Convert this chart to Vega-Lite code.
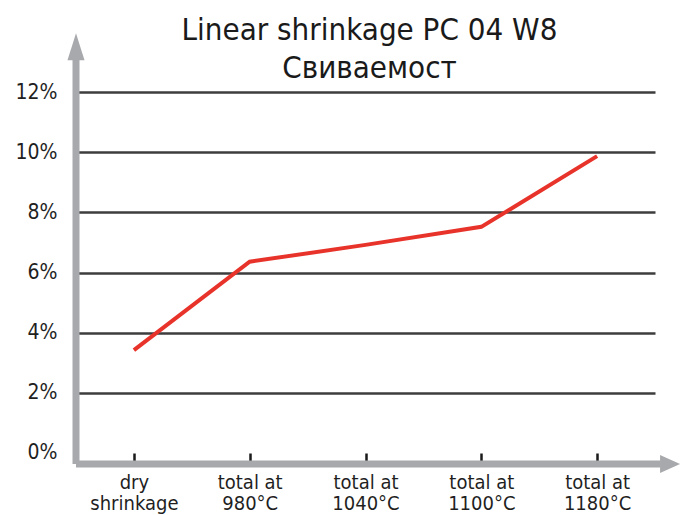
{
  "$schema": "https://vega.github.io/schema/vega-lite/v6.json",
  "width": 579,
  "height": 417,
  "autosize": {"type": "none"},
  "padding": {"left": 76, "top": 47, "right": 30, "bottom": 51},
  "background": "white",
  "config": {"view": {"stroke": null}, "font": "DejaVu Sans Condensed"},
  "title": {
    "text": ["Linear shrinkage PC 04 W8", "Свиваемост"],
    "fontSize": 31,
    "fontWeight": "normal",
    "color": "#1a1a1a",
    "lineHeight": 38,
    "anchor": "middle",
    "dx": 4,
    "offset": -52
  },
  "resolve": {"scale": {"x": "independent"}},
  "layer": [
    {
      "data": {"values": [{}]},
      "mark": {"type": "rule", "color": "#a7a9ac", "strokeWidth": 7},
      "encoding": {
        "x": {"datum": 0, "type": "quantitative", "scale": {"domain": [0, 1]}, "axis": null},
        "y": {"datum": -0.366, "type": "quantitative", "scale": {"domain": [-0.366, 13.5], "nice": false, "zero": false}},
        "y2": {"datum": 13.2}
      }
    },
    {
      "data": {"values": [{}]},
      "mark": {"type": "rule", "color": "#a7a9ac", "strokeWidth": 7},
      "encoding": {
        "x": {"datum": 0, "type": "quantitative", "scale": {"domain": [0, 1]}, "axis": null},
        "x2": {"datum": 1.01},
        "y": {"datum": -0.366, "type": "quantitative", "scale": {"domain": [-0.366, 13.5], "nice": false, "zero": false}}
      }
    },
    {
      "data": {"values": [{}]},
      "mark": {"type": "point", "filled": true, "opacity": 1, "color": "#a7a9ac", "shape": "M-0.63,1L0.63,1L0,-1Z", "size": 729},
      "encoding": {
        "x": {"datum": 0, "type": "quantitative", "scale": {"domain": [0, 1]}, "axis": null},
        "y": {"datum": 13.51, "type": "quantitative", "scale": {"domain": [-0.366, 13.5], "nice": false, "zero": false}}
      }
    },
    {
      "data": {"values": [{}]},
      "mark": {"type": "point", "filled": true, "opacity": 1, "color": "#a7a9ac", "shape": "M-1,-0.9L1,0L-1,0.9Z", "size": 400},
      "encoding": {
        "x": {"datum": 1.026, "type": "quantitative", "scale": {"domain": [0, 1]}, "axis": null},
        "y": {"datum": -0.366, "type": "quantitative", "scale": {"domain": [-0.366, 13.5], "nice": false, "zero": false}}
      }
    },
    {
      "data": {
        "values": [
          {"stage": "dry shrinkage", "shrinkage": 3.42},
          {"stage": "total at 980°C", "shrinkage": 6.36},
          {"stage": "total at 1040°C", "shrinkage": 6.92},
          {"stage": "total at 1100°C", "shrinkage": 7.52},
          {"stage": "total at 1180°C", "shrinkage": 9.87}
        ]
      },
      "mark": {"type": "line", "color": "#e8332b", "strokeWidth": 4},
      "encoding": {
        "x": {
          "field": "stage",
          "type": "nominal",
          "sort": null,
          "scale": {"type": "point", "padding": 0.5},
          "axis": {
            "title": null,
            "labelAngle": 0,
            "labelExpr": "datum.value === 'dry shrinkage' ? ['dry', 'shrinkage'] : ['total at', slice(datum.value, 9)]",
            "labelFontSize": 20,
            "labelLineHeight": 21,
            "labelColor": "#1f1f1f",
            "labelPadding": 19,
            "domain": false,
            "ticks": true,
            "tickSize": -11,
            "tickWidth": 2.5,
            "tickColor": "#1a1a1a",
            "zindex": 0
          }
        },
        "y": {
          "field": "shrinkage",
          "type": "quantitative",
          "scale": {"domain": [-0.366, 13.5], "nice": false, "zero": false},
          "axis": {
            "title": null,
            "values": [0, 2, 4, 6, 8, 10, 12],
            "labelExpr": "datum.value + '%'",
            "labelFontSize": 21,
            "labelColor": "#1f1f1f",
            "labelPadding": 19,
            "ticks": false,
            "domain": false,
            "grid": true,
            "gridColor": "#3d3d3d",
            "gridWidth": 2.5,
            "gridOpacity": {"condition": {"test": "datum.value === 0", "value": 0}, "value": 1}
          }
        }
      }
    }
  ]
}
